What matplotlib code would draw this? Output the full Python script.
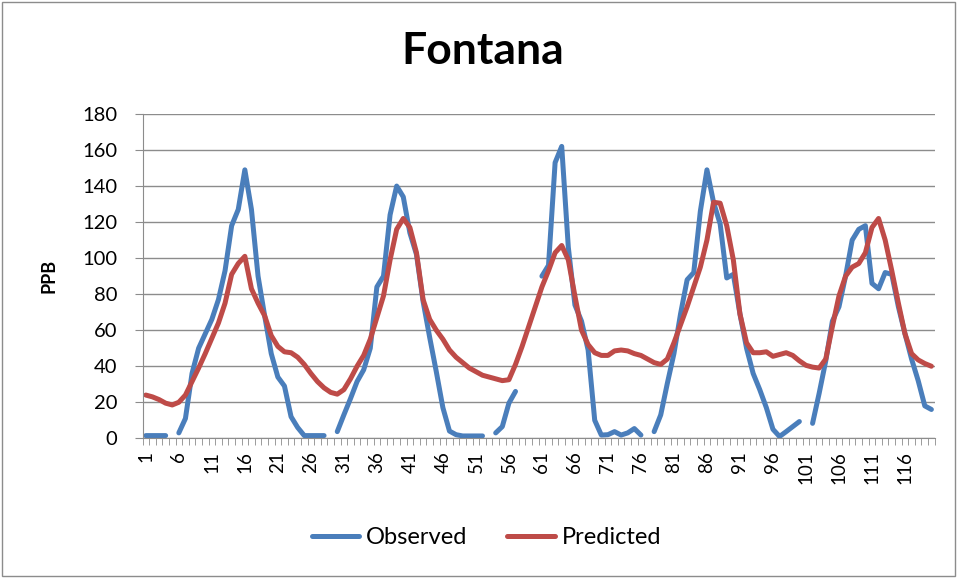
import matplotlib
matplotlib.use('Agg')
import matplotlib.pyplot as plt
from matplotlib.patches import Rectangle
import numpy as np

# observation index 1..120, None = missing
observed = [1.5, 1.5, 1.5, 1.5, None, 3, 11, 36, 50, 58,
            66, 77, 93, 118, 127, 149, 127, 90, 68, 47,
            34, 29, 12, 6, 1.5, 1.5, 1.5, 1.5, None, 3.7,
            13, 22, 31.5, 38, 50, 84, 90, 124, 140, 134,
            114, 102, 76, 56, 37, 17, 4, 2, 1.3, 1.3,
            1.3, 1.3, None, 3, 6.5, 19.5, 26, None, None, None,
            90, 96, 153, 162, 106, 74, 65, 49, 10, 1.8,
            2, 3.7, 1.8, 3, 5.4, 1.8, None, 3.7, 13, 30.5,
            47, 69, 88, 92, 126, 149, 131, 119, 89, 91,
            69, 50, 36, 27, 17, 5, 1, 3.7, 6.5, 9.3,
            None, 8.3, 25, 43, 65, 73, 90, 110, 116, 118,
            86, 83, 92, 91, 73, 58, 44, 32, 18, 16]
predicted = [24, 23, 21.5, 19.5, 18.5, 20, 24, 31.5, 39, 47,
             55.5, 64, 75, 91, 97, 101, 83, 75, 68, 57,
             51, 48, 47.5, 45, 41, 36, 31.5, 28, 25.5, 24.5,
             27, 33, 40, 46, 55, 67, 79, 99, 116, 122,
             117, 103, 77, 66, 60, 55, 49, 45, 42, 39,
             37, 35, 34, 33, 32, 32.5, 41, 51, 62, 73,
             84, 93, 103, 107, 99, 79, 60, 52, 47.5, 46,
             46, 48.5, 49, 48.5, 47, 46, 44, 42, 41, 44,
             53, 63, 73, 84, 95, 110, 131, 130.5, 118, 99,
             69, 53, 47.5, 47.5, 48, 45.5, 46.5, 47.5, 46, 43,
             40.5, 39.5, 39, 44, 62, 79, 90, 95, 97, 103,
             117, 122, 110, 93, 75, 58, 47, 43.5, 41.5, 40]
x = np.arange(1, len(observed) + 1)
obs = np.array(observed, dtype=float)
pred = np.array(predicted, dtype=float)

plt.rcParams['font.family'] = ['Lato', 'DejaVu Sans']

fig = plt.figure(figsize=(9.63, 5.78), dpi=100)
ax = fig.add_axes([0.148, 0.2417, 0.8226, 0.5611])

ax.plot(x, obs, color='#4A7EBB', lw=3.6, label='Observed', solid_capstyle='round', solid_joinstyle='round')
ax.plot(x, pred, color='#BE4B48', lw=3.6, label='Predicted', solid_capstyle='round', solid_joinstyle='round')

ax.set_xlim(0.5, len(x) + 0.5)
ax.set_ylim(0, 180)
ax.set_yticks(np.arange(0, 181, 20))
ax.yaxis.grid(True, color='#8C8C8C', lw=1)
ax.set_axisbelow(True)

ax.set_xticks(x[::5])
ax.set_xticklabels([str(v) for v in x[::5]], rotation=90, fontsize=13.5)
ax.set_xticks(np.arange(0.5, len(x) + 1, 1), minor=True)
ax.tick_params(axis='x', which='major', length=0, pad=9)
ax.tick_params(axis='x', which='minor', length=5, color='#8C8C8C', direction='out')
ax.tick_params(axis='y', length=6, color='#8C8C8C', labelsize=14.5, pad=12)

for s in ['top', 'right']:
    ax.spines[s].set_visible(False)
for s in ['left', 'bottom']:
    ax.spines[s].set_color('#8C8C8C')

ax.set_ylabel('PPB', fontsize=13, fontweight='bold', labelpad=18)
fig.text(0.501, 0.912, 'Fontana', ha='center', va='center', fontsize=32, fontweight='bold')

fig.legend(loc='center', bbox_to_anchor=(0.505, 0.07), ncol=2, frameon=False,
           fontsize=17, handlelength=2.0, columnspacing=1.7, handletextpad=0.3)

fig.patches.append(Rectangle((0.002, 0.004), 0.99, 0.992, transform=fig.transFigure,
                             fill=False, edgecolor='#8C8C8C', lw=1))

plt.savefig('out.png', dpi=100)
